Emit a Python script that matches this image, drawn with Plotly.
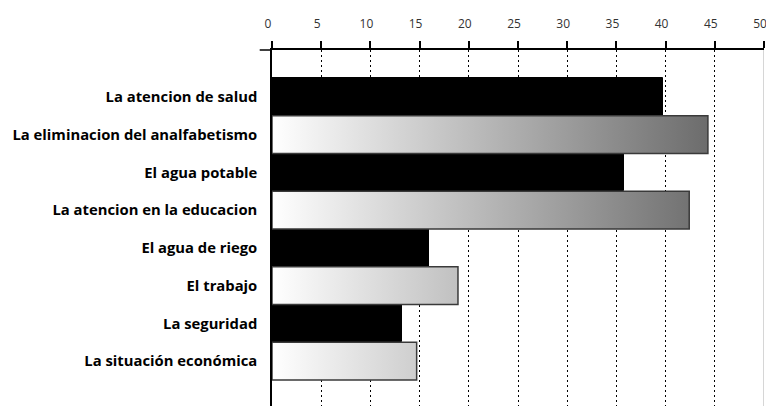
import plotly.graph_objects as go

categories = [
    "La atencion de salud",
    "La eliminacion del analfabetismo",
    "El agua potable",
    "La atencion en la educacion",
    "El agua de riego",
    "El trabajo",
    "La seguridad",
    "La situación económica",
]
values = [39.7, 44.3, 35.8, 42.4, 16.0, 18.9, 13.2, 14.7]
x_ticks = [0, 5, 10, 15, 20, 25, 30, 35, 40, 45, 50]

positions = list(range(len(categories)))
black_pos = [p for p in positions if p % 2 == 0]
grad_pos = [p for p in positions if p % 2 == 1]

fig = go.Figure()

# solid black bars
fig.add_trace(go.Bar(
    x=[values[p] for p in black_pos],
    y=black_pos,
    orientation='h',
    width=1,
    marker=dict(color='black', line=dict(color='black', width=1)),
    hovertext=[categories[p] for p in black_pos],
    showlegend=False,
))

# gradient bars: filled rectangles built from the values
gx, gy = [], []
for p in grad_pos:
    v = values[p]
    gx += [0, v, v, 0, 0, None]
    gy += [p - 0.5, p - 0.5, p + 0.5, p + 0.5, p - 0.5, None]

fig.add_trace(go.Scatter(
    x=gx, y=gy,
    mode='lines',
    fill='toself',
    fillgradient=dict(type='horizontal', start=0, stop=45,
                      colorscale=[[0, '#ffffff'], [1, '#6a6a6a']]),
    line=dict(color='#3a3a3a', width=1.5),
    hoverinfo='skip',
    showlegend=False,
))

# light border at the right end
fig.add_shape(type='line', xref='x', yref='paper', x0=50, x1=50, y0=0, y1=1,
              line=dict(color='#c8c8c8', width=1.5), layer='above')
# axis line running a bit to the left
fig.add_shape(type='line', xref='paper', yref='paper', x0=-0.025, x1=0, y0=1, y1=1,
              line=dict(color='black', width=1.5), layer='above')

fig.update_layout(
    width=766, height=406,
    margin=dict(l=272, r=2, t=50, b=0, autoexpand=False),
    paper_bgcolor='white', plot_bgcolor='white',
    font=dict(family='Open Sans', color='black'),
    bargap=0,
)

fig.update_xaxes(
    side='top', range=[0, 50], automargin=False,
    tickvals=x_ticks,
    tickfont=dict(size=12, color='#333', family='Open Sans'),
    ticks='outside', ticklen=7, tickcolor='black', tickwidth=1.5,
    ticklabelstandoff=8, ticklabelshift=-4, ticklabeloverflow='allow',
    showline=True, linecolor='black', linewidth=1.5,
    showgrid=True, gridcolor='black', gridwidth=1, griddash='2px,3px',
    zeroline=False,
)

fig.update_yaxes(
    range=[8.19, -1.242], automargin=False,
    tickvals=positions, ticktext=categories,
    tickfont=dict(size=14.8, color='black', family='Open Sans', weight='bold'),
    ticks='', ticklabelstandoff=10,
    showline=True, linecolor='black', linewidth=1.5,
    showgrid=False, zeroline=False,
)

# drop the default page margin so the figure fills the window exactly
fig.write_html("out.html",
               config={'displayModeBar': False},
               post_script="document.body.style.margin='0';document.body.style.overflow='hidden';")
